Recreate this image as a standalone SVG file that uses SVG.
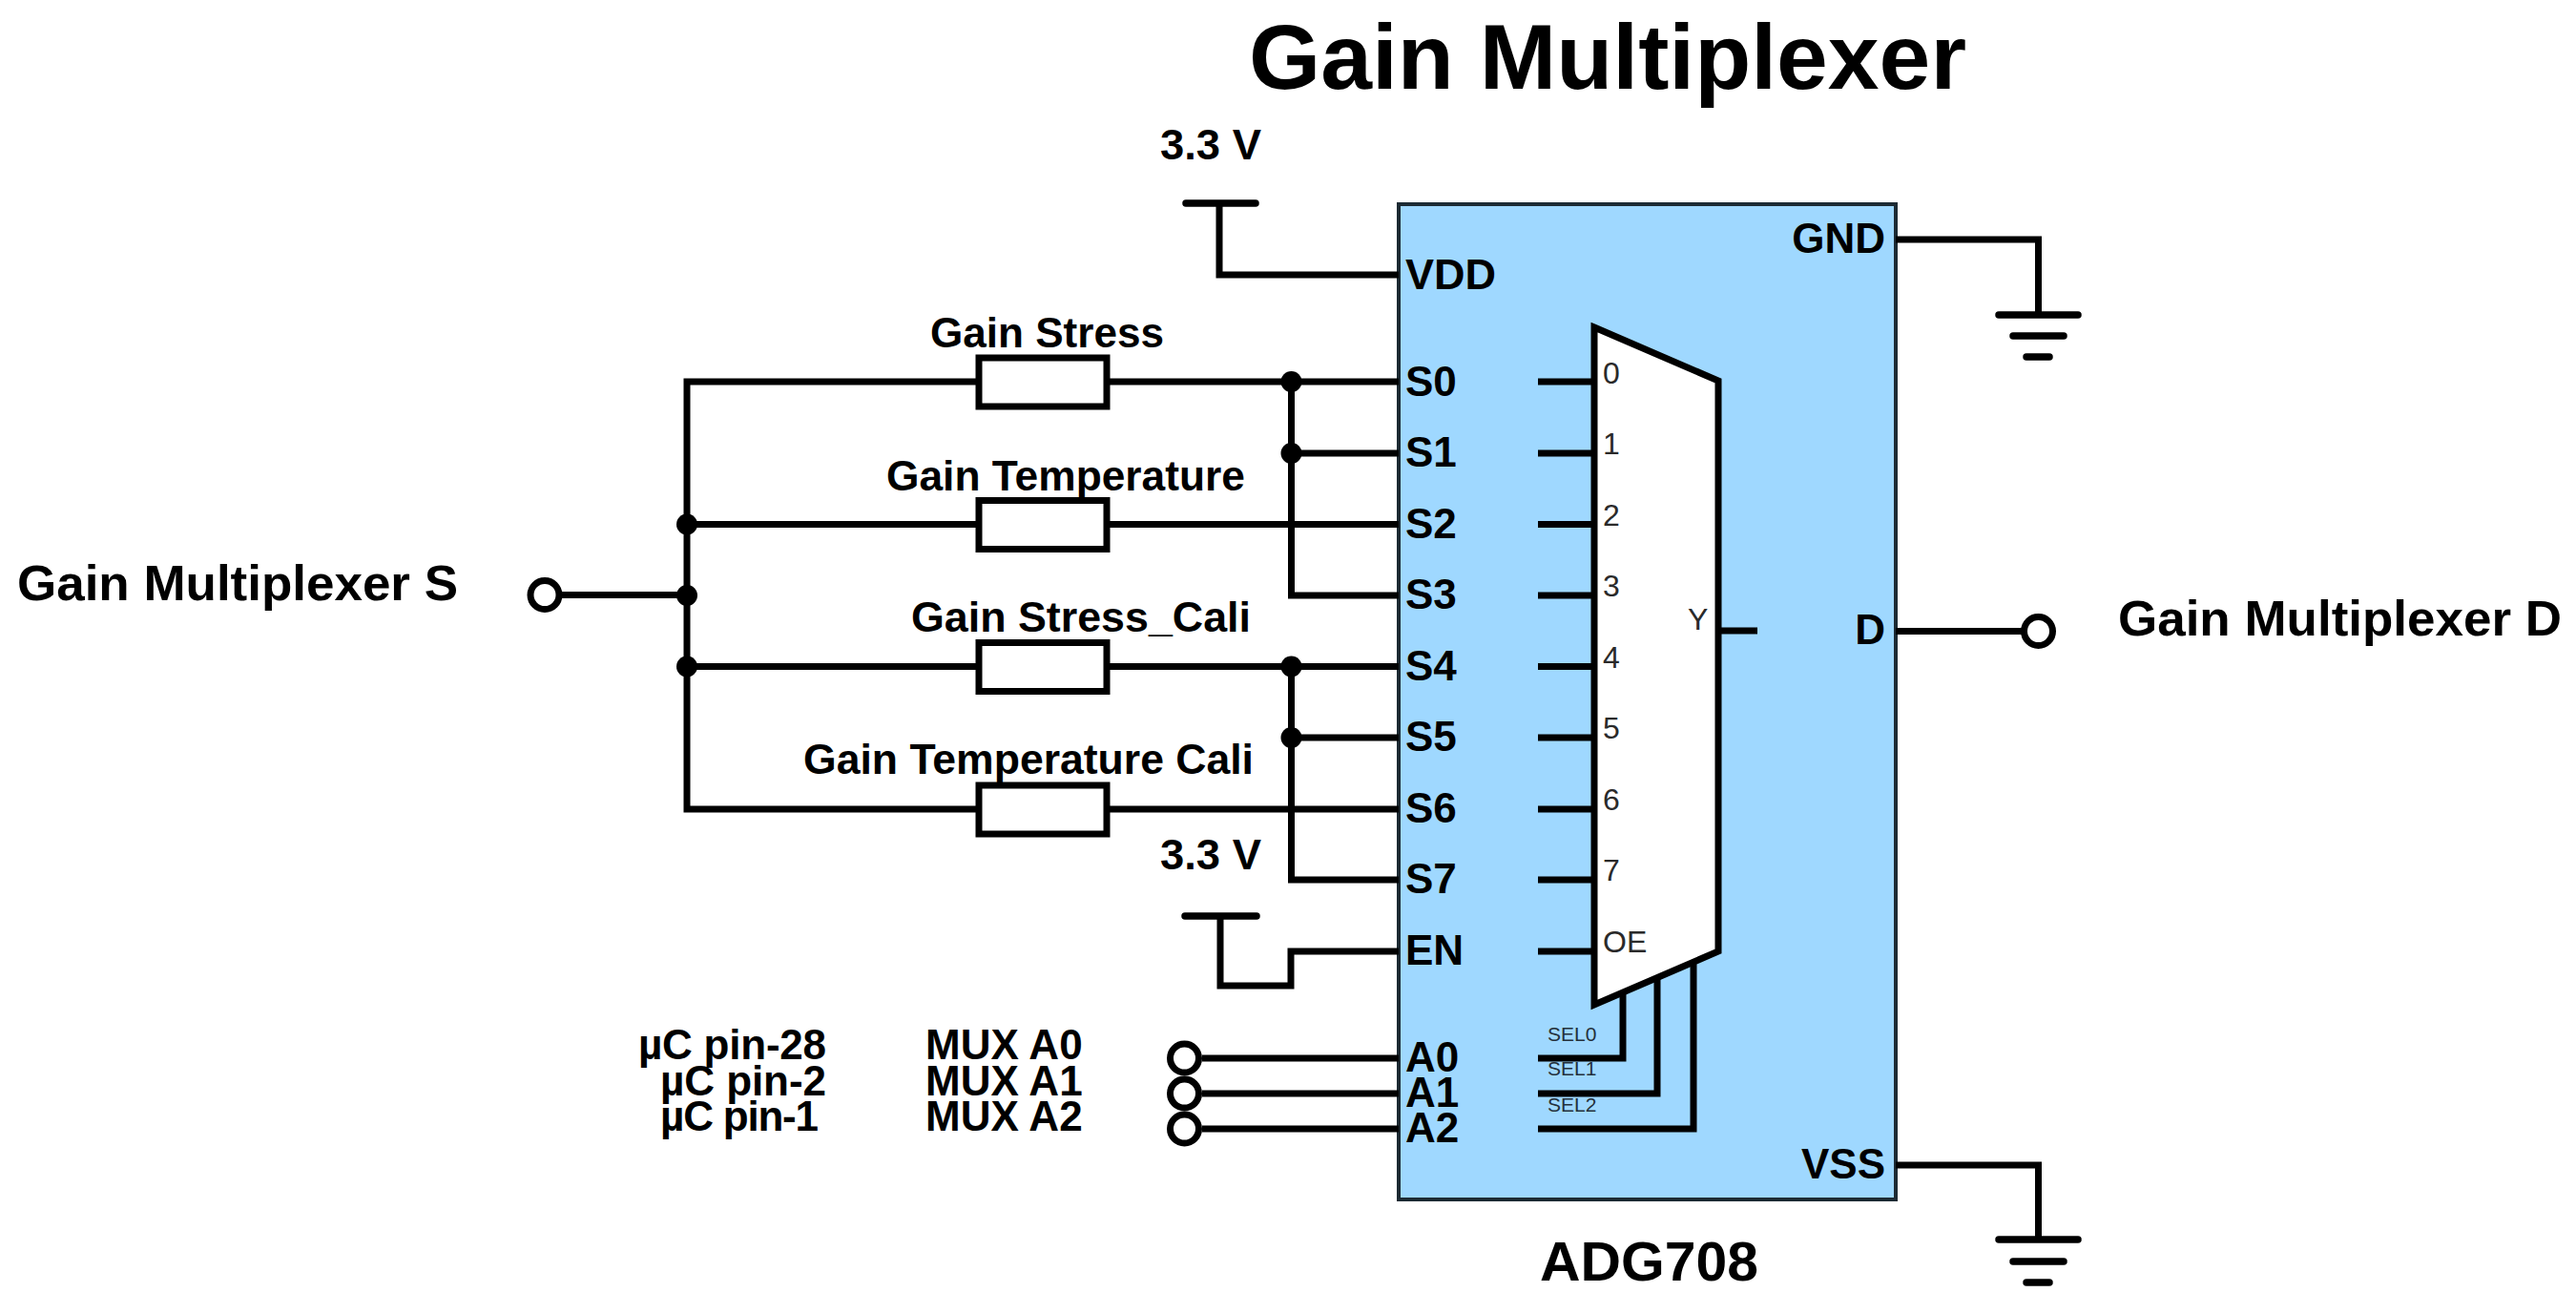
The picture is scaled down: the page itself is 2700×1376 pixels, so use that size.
<svg xmlns="http://www.w3.org/2000/svg" width="2700" height="1376" viewBox="0 0 2700 1376">
<style>
text{font-family:"Liberation Sans",Arial,sans-serif;font-weight:700;font-size:44px;fill:#000}
.sm{font-weight:400;font-size:32px;fill:#2a2a2a}
.xs{font-weight:400;font-size:21px;fill:#24303a}
.w{fill:none;stroke:#000;stroke-width:7;stroke-linejoin:miter;stroke-linecap:butt}
.r{fill:#fff;stroke:#000;stroke-width:7}
.t{fill:#fff;stroke:#000;stroke-width:7}
.j{fill:#000}
.b{fill:none;stroke:#000;stroke-width:7.500;stroke-linecap:round}
</style>
<rect width="2700" height="1376" fill="#fff"/>
<text id="title" x="1309" y="93" style="font-size:96px" textLength="752" lengthAdjust="spacingAndGlyphs">Gain Multiplexer</text>
<g id="ADG708">
<rect x="1466" y="214" width="521" height="1043" fill="#9fd8ff" stroke="#1c2a33" stroke-width="4"/>
<text x="1473" y="303" textLength="95" lengthAdjust="spacingAndGlyphs">VDD</text>
<text x="1473" y="415">S0</text><text x="1473" y="489">S1</text><text x="1473" y="564">S2</text><text x="1473" y="638">S3</text>
<text x="1473" y="713">S4</text><text x="1473" y="787">S5</text><text x="1473" y="862">S6</text><text x="1473" y="936">S7</text>
<text x="1473" y="1011">EN</text>
<text x="1473" y="1123">A0</text><text x="1473" y="1160">A1</text><text x="1473" y="1197">A2</text>
<text x="1976" y="265" text-anchor="end">GND</text>
<text x="1976" y="675" text-anchor="end">D</text>
<text x="1976" y="1235" text-anchor="end">VSS</text>
</g>
<text id="chip-name" x="1614" y="1342" style="font-size:58px" textLength="229" lengthAdjust="spacingAndGlyphs">ADG708</text>
<g id="connectors">
<path class="w" d="M720 549.500H1024M1160 549.500H1466M720 698.500H1024M1160 698.500H1466"/>
<path class="w" d="M1466 848H720V400H1466"/>
<path class="w" d="M586 623.500H720"/>
<path class="w" d="M1353.500 400V624H1466M1353.500 475H1466"/>
<path class="w" d="M1353.500 698.500V922H1466M1353.500 773H1466"/>
<path class="w" d="M1278 213V288H1466"/>
<path class="w" d="M1279 960V1033H1353V997H1466"/>
<path class="w" d="M1260 1109H1466M1260 1146H1466M1260 1183H1466"/>
<path class="w" d="M1987 251H2136.500V330"/>
<path class="w" d="M1987 1221H2136.500V1299"/>
<path class="w" d="M1987 661.500H2120"/>
<path class="w" d="M1612 400H1671M1612 475H1671M1612 549.500H1671M1612 624H1671M1612 698.500H1671M1612 773H1671M1612 848H1671M1612 922H1671M1612 997H1671M1801 661H1842"/>
<path class="w" d="M1612 1109H1701V1040M1612 1146H1737V1025M1612 1183H1775V1008"/>
</g>
<g id="junctions">
<circle class="j" cx="720" cy="549.500" r="11"/><circle class="j" cx="720" cy="624" r="11"/><circle class="j" cx="720" cy="698.500" r="11"/>
<circle class="j" cx="1353.500" cy="400" r="11"/><circle class="j" cx="1353.500" cy="475" r="11"/><circle class="j" cx="1353.500" cy="698.500" r="11"/><circle class="j" cx="1353.500" cy="773" r="11"/>
</g>
<g id="mux">
<path d="M1671 343L1801 399V997L1671 1053Z" fill="#fff" stroke="#000" stroke-width="7" stroke-linejoin="miter"/>
<text class="sm" x="1680" y="402">0</text><text class="sm" x="1680" y="476">1</text><text class="sm" x="1680" y="551">2</text><text class="sm" x="1680" y="625">3</text>
<text class="sm" x="1680" y="700">4</text><text class="sm" x="1680" y="774">5</text><text class="sm" x="1680" y="849">6</text><text class="sm" x="1680" y="923">7</text>
<text class="sm" x="1680" y="998">OE</text><text class="sm" x="1769" y="660">Y</text>
<text class="xs" x="1622" y="1091">SEL0</text><text class="xs" x="1622" y="1127">SEL1</text><text class="xs" x="1622" y="1165">SEL2</text>
</g>
<g id="R-gain-stress"><rect class="r" x="1026" y="375" width="134" height="51"/><text x="975" y="364" textLength="245" lengthAdjust="spacingAndGlyphs">Gain Stress</text></g>
<g id="R-gain-temperature"><rect class="r" x="1026" y="524.500" width="134" height="51"/><text x="929" y="514" textLength="376" lengthAdjust="spacingAndGlyphs">Gain Temperature</text></g>
<g id="R-gain-stress-cali"><rect class="r" x="1026" y="673.500" width="134" height="51"/><text x="955" y="662" textLength="356" lengthAdjust="spacingAndGlyphs">Gain Stress_Cali</text></g>
<g id="R-gain-temperature-cali"><rect class="r" x="1026" y="823" width="134" height="51"/><text x="842" y="811" textLength="472" lengthAdjust="spacingAndGlyphs">Gain Temperature Cali</text></g>
<g id="terminal-S"><circle class="t" cx="571" cy="623.500" r="15"/><text x="18" y="629" style="font-size:52px" textLength="462" lengthAdjust="spacingAndGlyphs">Gain Multiplexer S</text></g>
<g id="terminal-D"><circle class="t" cx="2136.500" cy="661.500" r="15"/><text x="2220" y="666" style="font-size:52px" textLength="465" lengthAdjust="spacingAndGlyphs">Gain Multiplexer D</text></g>
<g id="terminal-A0"><circle class="t" cx="1241.500" cy="1109" r="15"/><text x="669" y="1110" textLength="197" lengthAdjust="spacing">µC pin-28</text><text x="970" y="1110">MUX A0</text></g>
<g id="terminal-A1"><circle class="t" cx="1241.500" cy="1146" r="15"/><text x="692" y="1148" textLength="174" lengthAdjust="spacing">µC pin-2</text><text x="970" y="1148">MUX A1</text></g>
<g id="terminal-A2"><circle class="t" cx="1241.500" cy="1183" r="15"/><text x="692" y="1185" textLength="166" lengthAdjust="spacing">µC pin-1</text><text x="970" y="1185">MUX A2</text></g>
<g id="vdd-supply"><path class="b" d="M1243 213H1316"/><text x="1216" y="167" textLength="106" lengthAdjust="spacingAndGlyphs">3.3 V</text></g>
<g id="en-supply"><path class="b" d="M1242 960H1317"/><text x="1216" y="911" textLength="106" lengthAdjust="spacingAndGlyphs">3.3 V</text></g>
<g id="gnd-top"><path class="b" d="M2095 330H2178M2110 352H2163M2124 374H2148"/></g>
<g id="gnd-bottom"><path class="b" d="M2095 1299H2178M2110 1322H2163M2124 1344H2148"/></g>
</svg>
